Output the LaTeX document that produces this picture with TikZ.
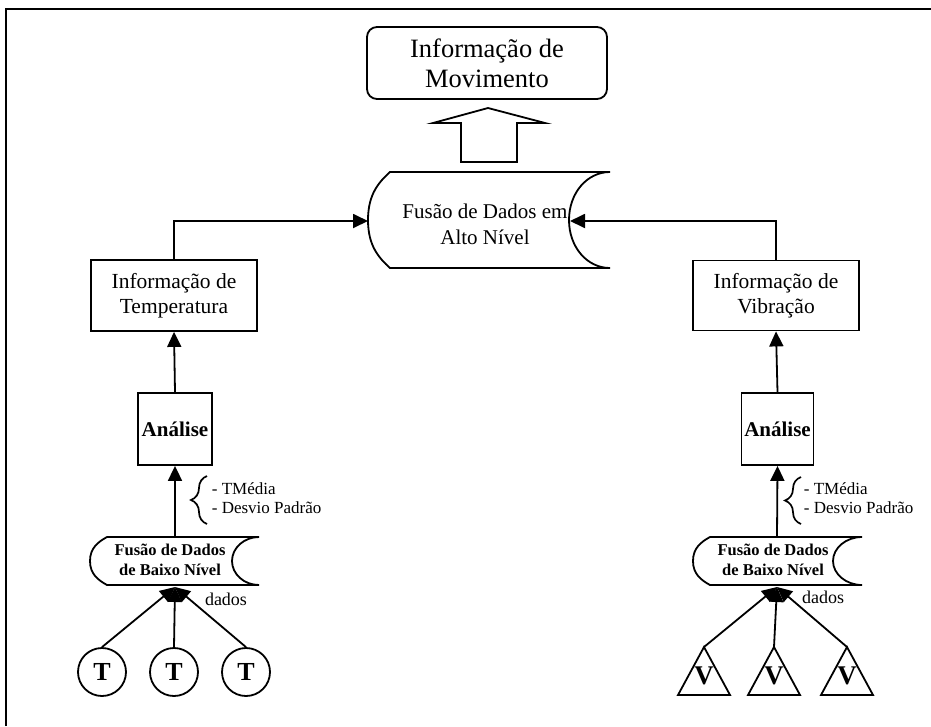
\documentclass[tikz,border=0pt]{standalone}
\usepackage{fontspec}
\setmainfont{Liberation Serif}
\usetikzlibrary{arrows.meta,decorations.pathreplacing}
\begin{document}
\begin{tikzpicture}[x=1pt,y=-1pt,
  line width=1.8pt,
  arr/.style={-{Triangle[length=15pt,width=14pt]}},
  box/.style={draw,rectangle,inner sep=0pt,align=center},
  infotext/.style={font=\fontsize{21.5}{25}\selectfont},
  fusetext/.style={align=center,inner sep=0pt},
  listtext/.style={anchor=west,align=left,inner sep=0pt,font=\fontsize{17}{19}\selectfont},
  sensor/.style={draw,circle,minimum size=48pt,inner sep=0pt,font=\fontsize{26}{26}\selectfont\bfseries},
  vlabel/.style={inner sep=0pt,font=\fontsize{27}{27}\selectfont\bfseries},
  bracestyle/.style={decorate,decoration={brace,amplitude=16pt},line width=1.7pt}]
\useasboundingbox (0,0) rectangle (931,726);

% outer frame (top and left edges)
\draw[line width=2.4pt] (6,726) -- (6,9) -- (931,9);

% result box
\node[box,rounded corners=10pt,minimum width=240pt,minimum height=72pt,
      font=\fontsize{26.5}{30}\selectfont] (mov) at (487,63) {Informação de\\Movimento};

% hollow block arrow towards the result
\draw[line width=1.8pt] (461,162) -- (461,123) -- (433,123) -- (488,108)
  -- (545,123) -- (517,123) -- (517,162) -- cycle;

% high-level fusion (stored-data outline)
\draw (390,172) -- (610,172)
  .. controls (587,172) and (569,193) .. (569,220)
  .. controls (569,247) and (587,268) .. (610,268)
  -- (390,268)
  .. controls (379,258) and (368,246) .. (368,220)
  .. controls (368,194) and (379,182) .. (390,172) -- cycle;
\node[fusetext,font=\fontsize{21}{26}\selectfont] (hf) at (485,224) {Fusão de Dados em\\Alto Nível};
\coordinate (hfW) at (368,221);
\coordinate (hfE) at (570,221);

% information boxes
\node[box,infotext,minimum width=166pt,minimum height=71pt] (temp) at (174,295.5) {Informação de\\Temperatura};
\node[box,infotext,minimum width=166pt,minimum height=70pt] (vib) at (776,295.5) {Informação de\\Vibração};

% analysis boxes
\node[box,minimum width=74pt,minimum height=72pt,font=\fontsize{21}{21}\selectfont\bfseries] (anL) at (175,429) {Análise};
\node[box,minimum width=72pt,minimum height=72pt,font=\fontsize{21}{21}\selectfont\bfseries] (anR) at (777.5,429) {Análise};

% low-level fusion, left
\draw (107,537) -- (259,537)
  .. controls (244,537) and (232,548) .. (232,561)
  .. controls (232,574) and (244,585) .. (259,585)
  -- (107,585)
  .. controls (98,580) and (90,574) .. (90,561)
  .. controls (90,548) and (98,542) .. (107,537) -- cycle;
\node[fusetext,font=\fontsize{16.5}{20}\selectfont\bfseries] (lfL) at (170,560) {Fusão de Dados\\de Baixo Nível};
\coordinate (lfLtop) at (175,537);
\coordinate (jL) at (175,587);

% low-level fusion, right
\draw (710,537) -- (862,537)
  .. controls (846,537) and (833,548) .. (833,561)
  .. controls (833,574) and (846,585) .. (862,585)
  -- (710,585)
  .. controls (701,580) and (693,574) .. (693,561)
  .. controls (693,548) and (701,542) .. (710,537) -- cycle;
\node[fusetext,font=\fontsize{16.5}{20}\selectfont\bfseries] (lfR) at (773,560) {Fusão de Dados\\de Baixo Nível};
\coordinate (lfRtop) at (777,537);
\coordinate (jR) at (777,587);

% statistics lists with braces
\draw[bracestyle] (207,524) -- (207,476);
\node[listtext] (stL) at (211,498.5) {- TMédia\\- Desvio Padrão};
\draw[bracestyle] (801,524) -- (801,477);
\node[listtext] (stR) at (803,498) {- TMédia\\- Desvio Padrão};

% data labels
\node[inner sep=0pt,font=\fontsize{18}{18}\selectfont] (dL) at (226,599) {dados};
\node[inner sep=0pt,font=\fontsize{18}{18}\selectfont] (dR) at (823,597) {dados};

% temperature sensors
\node[sensor] (t1) at (102,672) {T};
\node[sensor] (t2) at (174,672) {T};
\node[sensor] (t3) at (246,672) {T};

% vibration sensors
\foreach \cx/\nm in {704/v1,774/v2,847/v3}{
  \draw (\cx-26,695) -- (\cx,647) -- (\cx+26,695) -- cycle;
  \coordinate (\nm top) at (\cx,647);
  \node[vlabel] (\nm) at (\cx,676) {V};
}

% connectors
\draw[arr] (t1.north) -- (jL);
\draw[arr] (t2.north) -- (jL);
\draw[arr] (t3.north) -- (jL);
\draw[arr] (v1top) -- (jR);
\draw[arr] (v2top) -- (jR);
\draw[arr] (v3top) -- (jR);
\draw[arr] (lfLtop) -- (anL.south);
\draw[arr] (lfRtop) -- (anR.south);
\draw[arr] (anL.north) -- (temp.south);
\draw[arr] (anR.north) -- (vib.south);
\draw[arr] (temp.north) |- (hfW);
\draw[arr] (vib.north) |- (hfE);
\end{tikzpicture}
\end{document}
